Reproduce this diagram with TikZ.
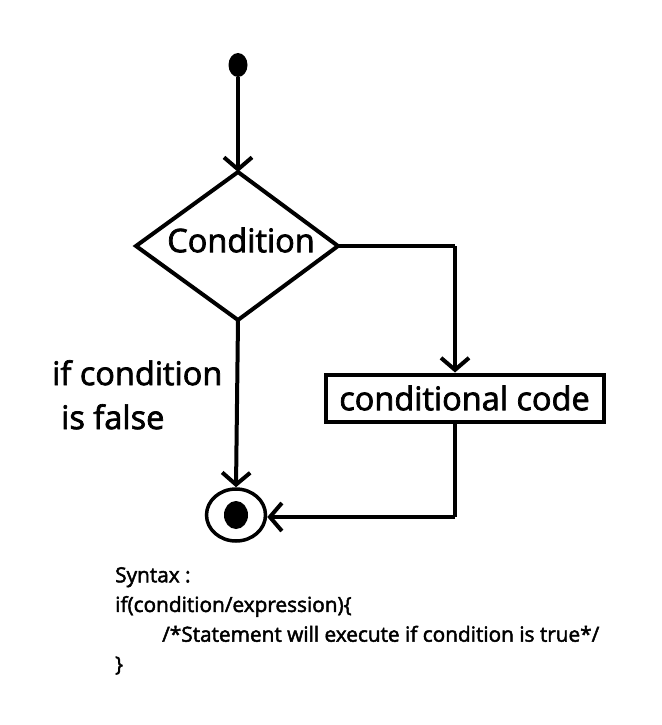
\documentclass[tikz,border=0pt]{standalone}
\usepackage{fontspec}
\setmainfont{Open Sans}[FakeBold=1.6]
\newfontfamily\semi{Open Sans}[FakeBold=2.2]
\usetikzlibrary{arrows.meta,shapes.geometric}
\begin{document}
\begin{tikzpicture}[x=1pt,y=-1pt,
  flow/.style={line width=4pt,-{Straight Barb[length=12pt,width=28pt,line width=4pt]}},
  plain/.style={line width=4pt},
  lbl/.style={font=\semi\fontsize{32.5}{36}\selectfont,inner sep=0pt}]
\useasboundingbox (0,0) rectangle (661,725);
\fill[white] (0,0) rectangle (661,725);
% start
\node[ellipse,fill=black,minimum width=19pt,minimum height=24pt,inner sep=0pt] (start) at (238,65) {};
% decision
\coordinate (dT) at (238,172);
\coordinate (dL) at (136,246);
\coordinate (dR) at (338,246);
\coordinate (dB) at (238,320);
\draw[line width=4pt,line join=miter] (dT) -- (dR) -- (dB) -- (dL) -- cycle;
\node[lbl] (cond) at (241,240) {Condition};
% conditional code box
\node[draw,line width=4pt,minimum width=278pt,minimum height=47pt,inner sep=0pt,lbl] (code) at (464.5,398) {conditional code};
% end node
\node[ellipse,draw,line width=3.5pt,minimum width=59pt,minimum height=52pt,inner sep=0pt] (end) at (236,515) {};
\node[ellipse,fill=black,minimum width=24pt,minimum height=28pt,inner sep=0pt] (enddot) at (236,515) {};
% corner coordinates
\coordinate (c1) at (455,246);
\coordinate (c2) at (455,517);
% connectors
\draw[flow] (start.south) -- (dT);
\draw[plain] (dR) -- (c1.center);
\draw[flow] (c1) -- (code.north -| c1);
\draw[plain] (code.south -| c2) -- (c2);
\draw[flow] (c2) -- (end.east |- c2);
\draw[flow] (dB) -- (end.north);
% false label
\node[lbl,anchor=north west,align=left,font=\semi\fontsize{32.5}{44}\selectfont] (flab) at (52,360) {if condition\\\hspace{9pt}is false};
% syntax
\node[anchor=north west,align=left,inner sep=0pt,font=\semi\fontsize{20.8}{29.7}\selectfont] (syn) at (115,567) {Syntax :\\if(condition/expression)\{\\\hspace{47pt}/*Statement will execute if condition is true*/\\\}};
\end{tikzpicture}
\end{document}
